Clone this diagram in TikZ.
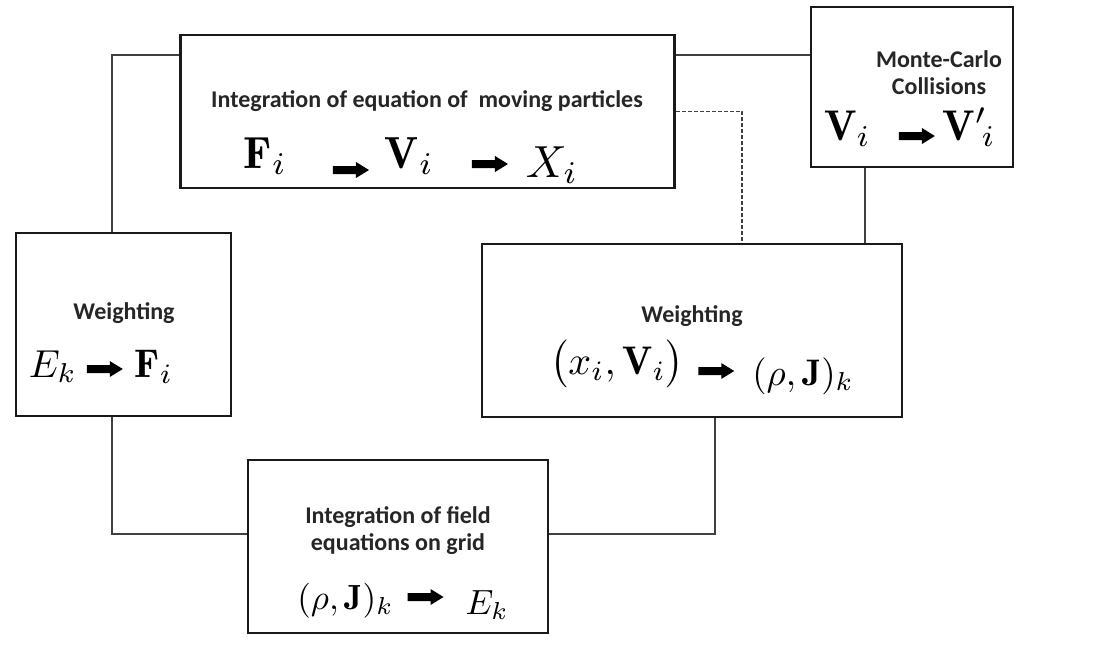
\documentclass[tikz,border=0pt]{standalone}
\usepackage{fontspec}
\usepackage{amsmath}
\usepackage{amssymb}
\usepackage{bm}
\usetikzlibrary{positioning}
\usetikzlibrary{calc}
\newfontfamily\labelfont{Carlito}

% fat black arrow used between the quantities
\newcommand{\fatarr}{\tikz[baseline=-4pt]\fill[black] (0pt,-4pt) -- (23pt,-4pt) -- (23pt,-8pt) -- (36pt,0pt) -- (23pt,8pt) -- (23pt,4pt) -- (0pt,4pt) -- cycle;}
% enlarged math (scaled from 10pt)
\newcommand{\mth}[2]{\scalebox{#1}{$#2$}}

\tikzset{
    box/.style={draw=black!90, line width=2.8pt, inner sep=0pt},
    link/.style={draw=black!75, line width=1.4pt},
    ttl/.style={font=\labelfont\bfseries\fontsize{24}{27}\selectfont, text=black!85, align=center, inner sep=0.5pt},
    eq/.style={anchor=base, inner sep=0pt}
}

\begin{document}
\begin{tikzpicture}[x=1pt, y=-1pt]
    \useasboundingbox[fill=white] (0,0) rectangle (1095,646);

    \node[box, minimum width=494pt, minimum height=153pt] (topbox) at (427.5,111.5) {};
    \node[box, minimum width=202pt, minimum height=160pt] (mcbox) at (912,87) {};
    \node[box, minimum width=215pt, minimum height=183pt] (leftw) at (123.5,324.5) {};
    \node[box, minimum width=420pt, minimum height=173pt] (rightw) at (692,330.5) {};
    \node[box, minimum width=300pt, minimum height=173pt] (botbox) at (398,546.5) {};

    \node[ttl] (toptitle) at (427,101) {Integration of equation of\ \ moving particles};
    \node[eq] (topeq) at (411,168) {\mth{4.5}{\mathbf{F}_i}\hspace{46pt}\raisebox{-6pt}{\fatarr}\hspace{16pt}\mth{4.5}{\mathbf{V}_i}\hspace{38pt}\fatarr\hspace{18pt}\raisebox{-9pt}{\mth{4.5}{X_i}}};

    \node[ttl] (mctitle) at (939,73) {Monte-Carlo\\Collisions};
    \node[eq] (mceq) at (910,140) {\mth{4.3}{\mathbf{V}_i}\hspace{28pt}\fatarr\hspace{8pt}\mth{4.3}{{\mathbf{V}'}_{\!i}}};

    \node[ttl] (lefttitle) at (124,313) {Weighting};
    \node[eq] (lefteq) at (101,377) {\mth{3.9}{E_k}\hspace{10pt}\raisebox{4pt}{\fatarr}\hspace{12pt}\mth{4}{\mathbf{F}_i}};

    \node[ttl] (righttitle) at (692,316) {Weighting};
    \node[eq] (righteq) at (702,374) {\mth{4}{\bigl(x_i,\mathbf{V}_i\bigr)}\hspace{14pt}\raisebox{-1pt}{\fatarr}\hspace{18pt}\raisebox{-11pt}{\mth{3.7}{(\rho,\mathbf{J})_k}}};

    \node[ttl] (bottitle) at (398,531) {Integration of field\\equations on grid};
    \node[eq] (boteq) at (403,609) {\mth{3.5}{(\rho,\mathbf{J})_k}\hspace{14pt}\raisebox{8pt}{\fatarr}\hspace{22pt}\raisebox{-5pt}{\mth{3.5}{E_k}}};

    % cycle connections
    \draw[link] ([xshift=-11.5pt]leftw.north) |- ([yshift=56.5pt]topbox.west);
    \draw[link] ([yshift=56.5pt]topbox.east) -- ([yshift=56.5pt]topbox.east -| mcbox.west);
    \draw[link, dashed, dash pattern=on 4pt off 2pt] (topbox.east) -| ([xshift=50pt]rightw.north);
    \draw[link] ([xshift=-47pt]mcbox.south) -- ([xshift=-47pt]mcbox.south |- rightw.north);
    \draw[link] ([xshift=23pt]rightw.south) |- ([yshift=12.5pt]botbox.east);
    \draw[link] ([xshift=-11.5pt]leftw.south) |- ([yshift=12.5pt]botbox.west);
\end{tikzpicture}
\end{document}
